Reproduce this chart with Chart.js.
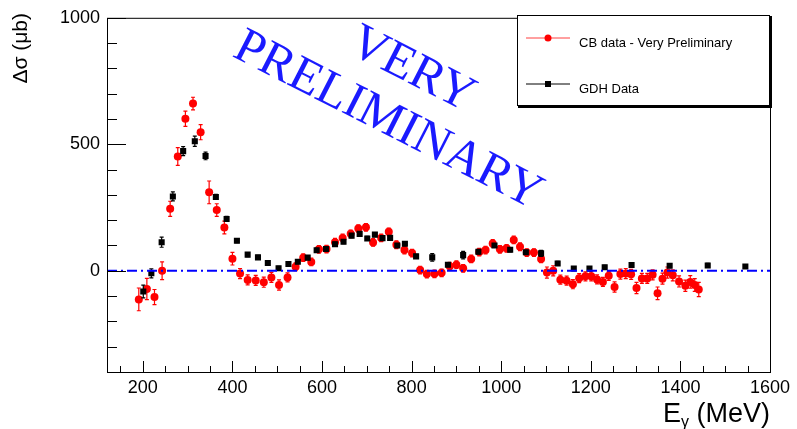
<!DOCTYPE html>
<html>
<head>
<meta charset="utf-8">
<script src="https://cdn.jsdelivr.net/npm/chart.js@4.4.0/dist/chart.umd.min.js"></script>
<style>
    html, body { margin: 0; padding: 0; background: #fff; }
    #wrap { width: 797px; height: 429px; position: relative; }
</style>
</head>
<body>
<div id="wrap"><canvas id="chartDelta"></canvas></div>
<script>
// CB data - Very Preliminary (rojo)
const cbEnergy = [191, 209, 226, 243, 261, 278, 295, 312, 329, 348, 365, 382, 400, 417, 434, 452, 470, 487, 504, 523,
    541, 558, 576, 593, 610, 629, 646, 664, 681, 698, 714, 732, 749, 766, 784, 801, 819, 834, 851, 867,
    885, 900, 915, 933, 951, 965, 981, 997, 1012, 1028, 1042, 1057, 1073, 1089, 1102, 1116, 1132, 1146, 1160, 1174,
    1188, 1201, 1214, 1227, 1240, 1253, 1266, 1278, 1290, 1302, 1314, 1326, 1338, 1349, 1360, 1371, 1383, 1397, 1411, 1422,
    1432, 1441];
const cbDelta = [-113, -72, -104, 0, 245, 452, 601, 661, 548, 310, 240, 171, 48, -11, -36, -38, -45, -26, -56, -26,
    16, 52, 35, 85, 86, 113, 130, 146, 167, 172, 112, 130, 154, 103, 82, 70, 3, -13, -12, -8,
    18, 24, 10, 47, 74, 82, 108, 85, 89, 122, 95, 72, 72, 47, -7, 0, -35, -39, -53, -29,
    -22, -22, -34, -44, -20, -64, -13, -11, -14, -68, -30, -30, -16, -89, -31, -7, -18, -42, -59, -44,
    -56, -74];
const cbErr = [45, 42, 30, 35, 30, 35, 30, 25, 30, 45, 25, 25, 25, 20, 20, 20, 20, 20, 20, 18,
    15, 15, 15, 15, 15, 15, 15, 15, 15, 15, 15, 15, 15, 15, 15, 15, 15, 15, 15, 15,
    15, 15, 15, 15, 15, 15, 15, 15, 15, 15, 15, 15, 15, 15, 22, 20, 18, 18, 18, 18,
    18, 18, 18, 18, 18, 20, 20, 20, 20, 22, 20, 20, 20, 25, 22, 22, 22, 22, 22, 25,
    25, 28];

// GDH Data (negro)
const gdhEnergy = [201, 219, 242, 267, 290, 316, 340, 363, 387, 410, 434, 457, 479, 503, 525, 546, 568, 588, 609, 629,
    648, 666, 684, 701, 718, 735, 752, 768, 785, 810, 846, 881, 915, 949, 985, 1020, 1055, 1089, 1126, 1162,
    1197, 1231, 1291, 1376, 1461, 1545];
const gdhDelta = [-82, -10, 113, 294, 473, 512, 454, 292, 205, 119, 64, 53, 31, 10, 27, 36, 52, 81, 86, 105,
    115, 139, 146, 128, 143, 129, 130, 100, 107, 57, 53, 24, 62, 75, 100, 83, 73, 69, 29, 9,
    9, 14, 23, 20, 21, 17];
const gdhErr = [25, 18, 20, 18, 18, 20, 15, 10, 10, 8, 8, 8, 8, 8, 8, 8, 8, 8, 8, 8,
    8, 8, 8, 8, 8, 8, 8, 8, 8, 8, 15, 8, 15, 8, 8, 8, 8, 12, 8, 8,
    8, 8, 8, 8, 8, 8];

// Ejes
const xTickLabels = [200, 400, 600, 800, 1000, 1200, 1400, 1600];
const yTickLabels = [0, 500, 1000];

const sansFont = "'Liberation Sans', Arial, sans-serif";

// Barras de error
const errorBarsPlugin = {
    id: 'errorBars',
    beforeDatasetDraw(chart, args) {
        const ds = chart.data.datasets[args.index];
        if (!ds.errors) return;
        const meta = args.meta;
        const yScale = chart.scales.y;
        const ctx = chart.ctx;
        ctx.save();
        ctx.strokeStyle = ds.borderColor;
        ctx.lineWidth = 1.2;
        meta.data.forEach((pt, i) => {
            const v = ds.data[i].y;
            const e = ds.errors[i];
            const yTop = yScale.getPixelForValue(v + e);
            const yBot = yScale.getPixelForValue(v - e);
            ctx.beginPath();
            ctx.moveTo(pt.x, yTop);
            ctx.lineTo(pt.x, yBot);
            ctx.moveTo(pt.x - 2, yTop);
            ctx.lineTo(pt.x + 2, yTop);
            ctx.moveTo(pt.x - 2, yBot);
            ctx.lineTo(pt.x + 2, yBot);
            ctx.stroke();
        });
        ctx.restore();
    }
};

// Marco, marcas interiores, titulos, leyenda y sello
const decorPlugin = {
    id: 'decor',
    afterDraw(chart) {
        const ctx = chart.ctx;
        const area = chart.chartArea;
        const xs = chart.scales.x;
        const ys = chart.scales.y;
        ctx.save();
        ctx.strokeStyle = '#000';
        ctx.lineWidth = 1;
        ctx.strokeRect(area.left + 0.5, area.top + 0.5, area.right - area.left, area.bottom - area.top);

        // marcas del eje x
        ctx.beginPath();
        for (let v = 150; v <= 1600; v += 50) {
            const px = Math.round(xs.getPixelForValue(v)) + 0.5;
            const len = (v % 200 === 0) ? 11 : 6;
            ctx.moveTo(px, area.bottom);
            ctx.lineTo(px, area.bottom - len);
        }
        // marcas del eje y
        for (let v = -400; v <= 1000; v += 100) {
            const py = Math.round(ys.getPixelForValue(v)) + 0.5;
            const len = (v % 500 === 0) ? 19 : 10;
            ctx.moveTo(area.left, py);
            ctx.lineTo(area.left + len, py);
        }
        ctx.stroke();

        // titulo eje y
        ctx.fillStyle = '#000';
        ctx.font = '21px ' + sansFont;
        ctx.save();
        ctx.translate(27, 13);
        ctx.rotate(-Math.PI / 2);
        ctx.textAlign = 'right';
        ctx.textBaseline = 'alphabetic';
        ctx.fillText('\u0394\u03c3 (\u03bcb)', 0, 0);
        ctx.restore();

        // titulo eje x
        ctx.textBaseline = 'alphabetic';
        ctx.textAlign = 'left';
        ctx.font = '27px ' + sansFont;
        const rest = ' (MeV)';
        const restW = ctx.measureText(rest).width;
        ctx.font = '16px ' + sansFont;
        const gW = ctx.measureText('\u03b3').width;
        ctx.font = '27px ' + sansFont;
        const eW = ctx.measureText('E').width;
        let x0 = 770 - restW - gW - eW;
        ctx.fillText('E', x0, 422);
        ctx.font = '16px ' + sansFont;
        ctx.fillText('\u03b3', x0 + eW, 427);
        ctx.font = '27px ' + sansFont;
        ctx.fillText(rest, x0 + eW + gW, 422);

        // leyenda
        ctx.fillStyle = '#fff';
        ctx.fillRect(517, 15, 253, 91);
        ctx.strokeStyle = '#000';
        ctx.lineWidth = 1;
        ctx.strokeRect(517.5, 15.5, 252, 90);
        ctx.lineWidth = 2;
        ctx.beginPath();
        ctx.moveTo(771, 16);
        ctx.lineTo(771, 107);
        ctx.lineTo(518, 107);
        ctx.stroke();

        ctx.lineWidth = 1;
        ctx.strokeStyle = '#ff4040';
        ctx.beginPath();
        ctx.moveTo(526, 38);
        ctx.lineTo(570, 38);
        ctx.stroke();
        ctx.fillStyle = '#ff0000';
        ctx.beginPath();
        ctx.arc(548, 38, 3.5, 0, Math.PI * 2);
        ctx.fill();

        ctx.strokeStyle = '#000';
        ctx.beginPath();
        ctx.moveTo(526, 84);
        ctx.lineTo(570, 84);
        ctx.stroke();
        ctx.fillStyle = '#000';
        ctx.fillRect(545, 81, 6, 6);

        ctx.fillStyle = '#000';
        ctx.font = '13px ' + sansFont;
        ctx.textBaseline = 'middle';
        ctx.fillText('CB data - Very Preliminary', 579, 43);
        ctx.fillText('GDH Data', 579, 89);

        // sello
        ctx.fillStyle = '#1a1aff';
        ctx.font = '50px "Liberation Serif", "Times New Roman", serif';
        ctx.textAlign = 'center';
        ctx.textBaseline = 'middle';
        const ang = 27 * Math.PI / 180;
        ctx.save();
        ctx.translate(412, 70);
        ctx.rotate(ang);
        ctx.fillText('VERY', 0, 0);
        ctx.restore();
        ctx.save();
        ctx.translate(388, 121);
        ctx.rotate(ang);
        ctx.fillText('PRELIMINARY', 0, 0);
        ctx.restore();

        ctx.restore();
    }
};

const ctx = document.getElementById('chartDelta').getContext('2d');
new Chart(ctx, {
    type: 'scatter',
    data: {
        datasets: [
            {
                label: 'zero',
                type: 'line',
                data: [{ x: 120, y: 0 }, { x: 1600, y: 0 }],
                borderColor: '#0000ff',
                borderWidth: 2,
                borderDash: [10, 4, 2, 4],
                pointRadius: 0,
                order: 0
            },
            {
                label: 'GDH Data',
                data: gdhEnergy.map((e, i) => ({ x: e, y: gdhDelta[i] })),
                errors: gdhErr,
                borderColor: '#000000',
                backgroundColor: '#000000',
                pointStyle: 'rect',
                pointRadius: 4.3,
                borderWidth: 0,
                order: 1
            },
            {
                label: 'CB data - Very Preliminary',
                data: cbEnergy.map((e, i) => ({ x: e, y: cbDelta[i] })),
                errors: cbErr,
                borderColor: '#ff0000',
                backgroundColor: '#ff0000',
                pointStyle: 'circle',
                pointRadius: 4,
                borderWidth: 0,
                order: 2
            }
        ]
    },
    options: {
        responsive: true,
        maintainAspectRatio: false,
        animation: false,
        layout: { padding: { top: 14, right: 27, left: 0, bottom: 0 } },
        plugins: {
            legend: { display: false },
            tooltip: { enabled: false }
        },
        scales: {
            x: {
                type: 'linear',
                min: 120,
                max: 1600,
                afterBuildTicks: s => { s.ticks = xTickLabels.map(v => ({ value: v })); },
                afterFit: s => { s.height = 57; },
                grid: { display: false, drawTicks: false },
                border: { display: false },
                ticks: {
                    color: '#000',
                    font: { family: sansFont, size: 18 },
                    padding: 5,
                    maxRotation: 0,
                    autoSkip: false,
                    callback: v => String(v)
                }
            },
            y: {
                min: -400,
                max: 1000,
                afterBuildTicks: s => { s.ticks = yTickLabels.map(v => ({ value: v })); },
                afterFit: s => { s.width = 107; },
                grid: { display: false, drawTicks: false },
                border: { display: false },
                ticks: {
                    color: '#000',
                    font: { family: sansFont, size: 18 },
                    padding: 7,
                    callback: v => String(v)
                }
            }
        }
    },
    plugins: [errorBarsPlugin, decorPlugin]
});
</script>
</body>
</html>
